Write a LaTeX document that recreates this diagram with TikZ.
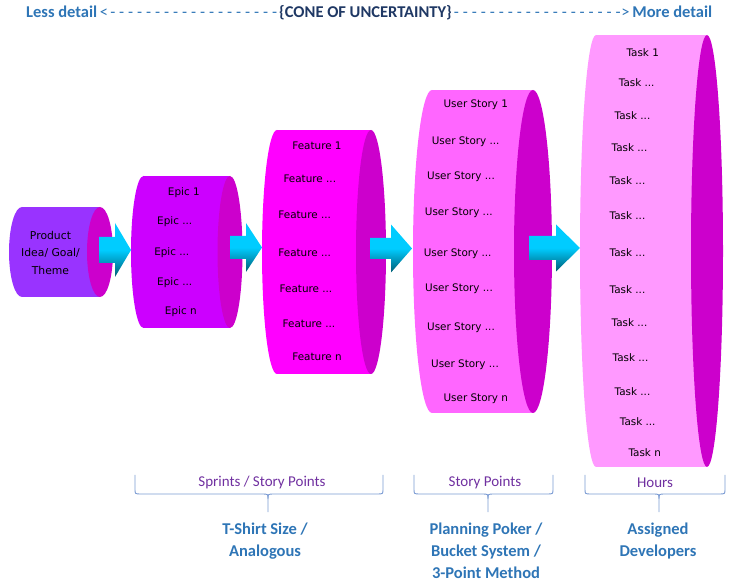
\documentclass[tikz,border=0pt]{standalone}
\usepackage{fontspec}
\setmainfont{Carlito}
\newfontfamily\dvsans{DejaVu Sans}
\definecolor{capc}{HTML}{CC00CC}
\definecolor{bodyA}{HTML}{9933FF}
\definecolor{bodyB}{HTML}{CC00FF}
\definecolor{bodyC}{HTML}{FF00FF}
\definecolor{bodyD}{HTML}{FF66FF}
\definecolor{bodyE}{HTML}{FF99FF}
\definecolor{hblue}{HTML}{2E75B6}
\definecolor{navy}{HTML}{1F3864}
\definecolor{ulabel}{HTML}{7030A0}
\definecolor{bracec}{HTML}{7B9BD3}
\definecolor{acyan}{HTML}{00CCFF}
\definecolor{adark}{HTML}{005C73}
\pgfdeclareverticalshading{arrsh}{100bp}{color(0bp)=(adark); color(25bp)=(adark); color(50bp)=(acyan); color(100bp)=(acyan)}
\newcommand\mycyl[8]{% name, xL, xR, yc, ry, rx, body, cap
  \fill[#7] (#2,#4) ellipse[x radius=#6, y radius=#5];
  \fill[#7] (#2,#4-#5) rectangle (#3,#4+#5);
  \fill[#8] (#3,#4) ellipse[x radius=#6, y radius=#5];
  \coordinate (#1) at (#2,#4);
}
\newcommand\blkarrow[7]{% name, x0, xh, xt, yc, shaft half, head half
  \shade[shading=arrsh] (#2,#5-#6) -- (#3,#5-#6) -- (#3,#5-#7) -- (#4,#5) -- (#3,#5+#7) -- (#3,#5+#6) -- (#2,#5+#6) -- cycle;
  \coordinate (#1) at (#4,#5);
}
\newcommand\mybrace[4]{% name, x1, xm, x2
  \draw[bracestyle] (#2,475) -- (#2,489) .. controls (#2,494) and (#2,494) .. (#2+6,494) -- (#3-6,494) .. controls (#3,494) and (#3,494) .. (#3,499) -- (#3,512);
  \draw[bracestyle] (#3,499) .. controls (#3,494) and (#3,494) .. (#3+6,494) -- (#4-6,494) .. controls (#4,494) and (#4,494) .. (#4,489) -- (#4,475);
  \coordinate (#1) at (#3,512);
}
\newcommand\dashrun{\xleaders\hbox to 8.8pt{\hss-\hss}\hfill}
\begin{document}
\begin{tikzpicture}[x=1pt,y=-1pt,
  cyltxt/.style={font=\dvsans\fontsize{10.4}{12}\selectfont, text=black, inner sep=0pt},
  method/.style={font=\bfseries\fontsize{16.5}{22}\selectfont, text=hblue, align=center, inner sep=0pt},
  unit/.style={font=\fontsize{15}{18}\selectfont, text=ulabel, inner sep=0pt},
  bracestyle/.style={draw=bracec, line width=0.9pt}]
\useasboundingbox (0,0) rectangle (737,585);

% header
\node[inner sep=0pt, anchor=west] (header) at (26,13) {\hbox to 686pt{\fontsize{16.5}{20}\selectfont\color{hblue}\textbf{Less detail}\,<\dashrun\color{navy}\textbf{\{CONE OF UNCERTAINTY\}}\color{hblue}\dashrun\kern-1.5pt>\,\textbf{More detail}}};

% cylinders
\mycyl{cylA}{22}{100}{252}{45}{13}{bodyA}{capc}
\mycyl{cylB}{143.5}{230}{252}{76}{12.5}{bodyB}{capc}
\mycyl{cylC}{277}{371}{252}{122}{15}{bodyC}{capc}
\mycyl{cylD}{432}{533}{251.5}{161.5}{19}{bodyD}{capc}
\mycyl{cylE}{596}{707}{251}{216}{16}{bodyE}{capc}

% arrows
\blkarrow{arA}{99}{115}{131}{250}{13}{27}
\blkarrow{arB}{230}{246}{262}{247.5}{11.5}{24.5}
\blkarrow{arC}{370}{391}{412}{248.5}{10.5}{24}
\blkarrow{arD}{529}{556}{580}{248}{12}{23.5}

% cylinder texts
\node[cyltxt, align=center, font=\dvsans\fontsize{10.8}{17.5}\selectfont] (prod) at (50.5,252.5) {Product\\Idea/ Goal/\\Theme};

\node[cyltxt] (e1) at (183.8,192.7) {Epic 1};
\node[cyltxt] (e2) at (174.7,222) {Epic ...};
\node[cyltxt] (e3) at (171.8,253) {Epic ...};
\node[cyltxt] (e4) at (174.7,283) {Epic ...};
\node[cyltxt] (e5) at (180.8,311.7) {Epic n};

\node[cyltxt] (f1) at (317,146) {Feature 1};
\node[cyltxt] (f2) at (309.8,179) {Feature ...};
\node[cyltxt] (f3) at (304.7,215) {Feature ...};
\node[cyltxt] (f4) at (304.7,253) {Feature ...};
\node[cyltxt] (f5) at (306,289) {Feature ...};
\node[cyltxt] (f6) at (309,324) {Feature ...};
\node[cyltxt] (f7) at (317,357) {Feature n};

\node[cyltxt] (u1) at (475.8,105) {User Story 1};
\node[cyltxt] (u2) at (465.7,141.7) {User Story ...};
\node[cyltxt] (u3) at (461,176.7) {User Story ...};
\node[cyltxt] (u4) at (458.8,213) {User Story ...};
\node[cyltxt] (u5) at (457.7,253.3) {User Story ...};
\node[cyltxt] (u6) at (459,289) {User Story ...};
\node[cyltxt] (u7) at (461,328) {User Story ...};
\node[cyltxt] (u8) at (465,365) {User Story ...};
\node[cyltxt] (u9) at (475.8,399) {User Story n};

\node[cyltxt] (t1) at (642.7,53) {Task 1};
\node[cyltxt] (t2) at (636.7,83) {Task ...};
\node[cyltxt] (t3) at (632.5,116) {Task ...};
\node[cyltxt] (t4) at (629.5,148) {Task ...};
\node[cyltxt] (t5) at (627.5,181) {Task ...};
\node[cyltxt] (t6) at (627.5,216) {Task ...};
\node[cyltxt] (t7) at (627.5,253) {Task ...};
\node[cyltxt] (t8) at (627.5,290) {Task ...};
\node[cyltxt] (t9) at (629.5,323) {Task ...};
\node[cyltxt] (t10) at (630.5,358) {Task ...};
\node[cyltxt] (t11) at (632.5,391.7) {Task ...};
\node[cyltxt] (t12) at (637.7,421.7) {Task ...};
\node[cyltxt] (t13) at (644.7,452.7) {Task n};

% braces
\mybrace{brA}{135}{268}{383}
\mybrace{brB}{414}{488}{553}
\mybrace{brC}{585}{659}{725}

\node[unit] (uA) at (262,483) {Sprints / Story Points};
\node[unit] (uB) at (485,483) {Story Points};
\node[unit] (uC) at (655,483) {Hours};

\node[method, anchor=north] (mA) at (265,523) {T-Shirt Size /\\Analogous};
\node[method, anchor=north] (mB) at (486,523) {Planning Poker /\\Bucket System /\\3-Point Method};
\node[method, anchor=north] (mC) at (658,523) {Assigned\\Developers};
\end{tikzpicture}
\end{document}
